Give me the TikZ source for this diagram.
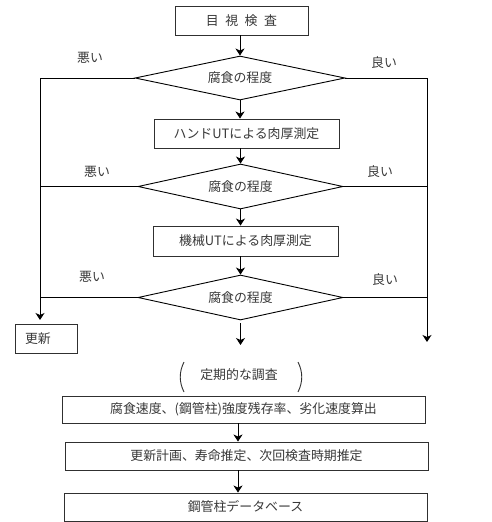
\documentclass[tikz,border=0pt]{standalone}
\usepackage{fontspec}
\setmainfont{Noto Sans CJK JP}
\usetikzlibrary{shapes.geometric,arrows.meta,calc}
\definecolor{txt}{HTML}{383838}
\definecolor{edge}{HTML}{303030}
\begin{document}
\begin{tikzpicture}[x=1pt,y=-1pt,
  every node/.style={font=\fontsize{12.9pt}{14pt}\selectfont, text=txt},
  boxnode/.style={draw=edge, line width=0.9pt, rectangle, inner sep=0pt},
  decnode/.style={draw=black, line width=0.9pt, diamond, inner sep=0pt, shape aspect=4.6},
  lbl/.style={inner sep=0pt},
  conn/.style={draw=black, line width=1pt},
  arr/.style={conn, -{Stealth[width=9pt,length=7pt,inset=2pt]}}]
\useasboundingbox (0,0) rectangle (491,522);

\node[boxnode, minimum width=133pt, minimum height=29pt] (b1) at (241.5,20.5) {目\hspace{6.5pt}視\hspace{6.5pt}検\hspace{6.5pt}査};
\node[decnode, minimum width=210pt, minimum height=44pt] (d1) at (240,78) {腐食の程度};
\node[boxnode, minimum width=185pt, minimum height=29pt] (b2) at (246.5,133.5) {ハンドUTによる肉厚測定};
\node[decnode, minimum width=205pt, minimum height=45pt] (d2) at (240.5,186.5) {腐食の程度};
\node[boxnode, minimum width=185pt, minimum height=30pt] (b3) at (245.5,241) {機械UTによる肉厚測定};
\node[decnode, minimum width=205pt, minimum height=45pt] (d3) at (240.5,297.5) {腐食の程度};
\node[boxnode, minimum width=62pt, minimum height=29pt, inner xsep=10pt, text width=42pt, align=left] (kou) at (46,338.5) {更新};

\node[lbl] (w1) at (90,58) {悪い};
\node[lbl] (g1) at (384,63) {良い};
\node[lbl] (w2) at (97,172) {悪い};
\node[lbl] (g2) at (380,172) {良い};
\node[lbl] (w3) at (92,277) {悪い};
\node[lbl] (g3) at (385,280) {良い};

\coordinate (Lend) at (40,320);
\coordinate (Rend) at (427,342);
\coordinate (d3out) at (240.5,345);

\draw[arr] (b1.south -| d1.north) -- (d1.north);
\draw[arr] (d1.south) -- (d1.south |- b2.north);
\draw[arr] (b2.south -| d2.north) -- (d2.north);
\draw[arr] (d2.south) -- (d2.south |- b3.north);
\draw[arr] (b3.south -| d3.north) -- (d3.north);
\draw[arr, shorten <=3pt] (d3.south) -- (d3out);

\draw[arr] (d1.west) -| (Lend);
\draw[conn] (d2.west) -- (d2.west -| Lend);
\draw[conn] (d3.west) -- (d3.west -| Lend);
\draw[arr] (d1.east) -| (Rend);
\draw[conn] (d2.east) -- (d2.east -| Rend);
\draw[conn] (d3.east) -- (d3.east -| Rend);

\node[lbl] (teiki) at (239,375) {定期的な調査};
\draw[line width=0.9pt, edge] (184,362) .. controls (179,372) and (179,382) .. (184,392);
\draw[line width=0.9pt, edge] (298,362) .. controls (303,372) and (303,382) .. (298,392);

\node[boxnode, minimum width=363pt, minimum height=27pt] (b4) at (243.5,409.5) {腐食速度、(鋼管柱)強度残存率、劣化速度算出};
\node[boxnode, minimum width=363pt, minimum height=28pt] (b5) at (246.5,456) {更新計画、寿命推定、次回検査時期推定};
\node[boxnode, minimum width=363pt, minimum height=28pt] (b6) at (245.5,507) {鋼管柱データベース};

\draw[arr] ([xshift=-5.5pt]b4.south) -- ([xshift=-5.5pt]b4.south |- b5.north);
\draw[arr] ([xshift=-8.5pt]b5.south) -- ([xshift=-8.5pt]b5.south |- b6.north);
\end{tikzpicture}
\end{document}
